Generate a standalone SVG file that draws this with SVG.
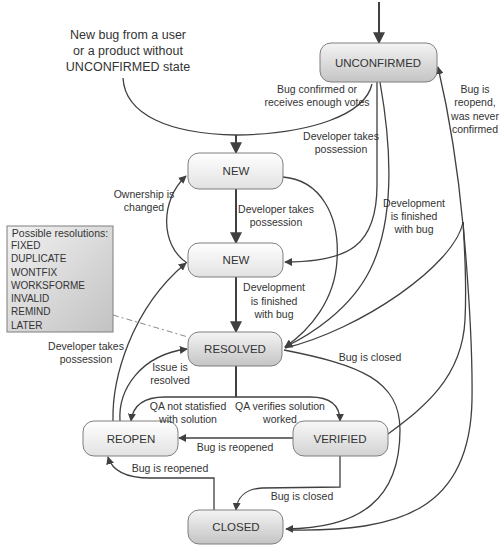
<svg xmlns="http://www.w3.org/2000/svg" width="504" height="550" viewBox="0 0 504 550">
<style>
text{font-family:"Liberation Sans",Arial,sans-serif;fill:#333;text-anchor:middle}
.n{font-size:11.5px}
.e{font-size:10.5px}
.t{font-size:12.5px}
.r{font-size:10px;text-anchor:start}
.node rect{stroke:#7f7f7f;stroke-width:1}
.c path{fill:none;stroke:#404040;stroke-width:1.3}
.c .th{stroke-width:2}
</style>
<defs>
<linearGradient id="gL" x1="0" y1="0" x2="0" y2="1"><stop offset="0" stop-color="#ffffff"/><stop offset="1" stop-color="#e2e2e2"/></linearGradient>
<linearGradient id="gD" x1="0" y1="0" x2="0" y2="1"><stop offset="0" stop-color="#f4f4f4"/><stop offset="1" stop-color="#c4c4c4"/></linearGradient>
<linearGradient id="gM" x1="0" y1="0" x2="0" y2="1"><stop offset="0" stop-color="#f8f8f8"/><stop offset="1" stop-color="#d2d2d2"/></linearGradient>
<linearGradient id="gB" x1="0" y1="0" x2="1" y2="1"><stop offset="0" stop-color="#f2f2f2"/><stop offset="1" stop-color="#c2c2c2"/></linearGradient>
<marker id="a" viewBox="0 0 10 10" refX="9" refY="5" markerWidth="8" markerHeight="8" markerUnits="userSpaceOnUse" orient="auto"><path d="M0,0 L10,5 L0,10 z" fill="#404040"/></marker>
<marker id="ab" viewBox="0 0 10 10" refX="9" refY="5" markerWidth="6" markerHeight="6" orient="auto"><path d="M0,0 L10,5 L0,10 z" fill="#404040"/></marker>
</defs>

<g id="connectors" class="c">
<path class="th" d="M379,2 L379,43" marker-end="url(#ab)"/>
<path d="M123,78 C125,115 170,134 236,135"/>
<path d="M372,84 C365,115 310,134 236,135"/>
<path class="th" d="M236,135 L236,153" marker-end="url(#ab)"/>
<path class="th" d="M236,189 L236,243" marker-end="url(#ab)"/>
<path class="th" d="M236,277 L236,332" marker-end="url(#ab)"/>
<path d="M377,82 L377,185 C377,245 350,262 285,262" marker-end="url(#a)"/>
<path d="M380,82 C392,150 395,220 370,270 C350,310 310,335 285,347" marker-end="url(#a)"/>
<path d="M283,177 C320,180 340,215 337,260 C335,300 310,330 285,347" marker-end="url(#a)"/>
<path d="M187,263 C160,245 160,200 186,176" marker-end="url(#a)"/>
<path d="M113,421 C112,380 130,310 186,263" marker-end="url(#a)"/>
<path d="M120,421 C118,390 140,355 187,349" marker-end="url(#a)"/>
<path d="M463,225 C458,170 448,110 438,67" marker-end="url(#a)"/>
<path d="M463,222 C455,265 360,330 285,348"/>
<path d="M388,434 C420,410 462,380 465,320 C467,280 464,240 463,222"/>
<path d="M290,530 C400,532 470,510 472,400 C473,330 466,260 463,222"/>
<path d="M284,350 C360,365 400,380 400,430 C400,500 360,528 286,529" marker-end="url(#a)"/>
<path class="th" d="M236,366 L236,397"/>
<path d="M236,397 L165,397 C145,397 133,405 131,421" marker-end="url(#a)"/>
<path d="M236,397 L310,397 C330,397 340,405 340,421" marker-end="url(#a)"/>
<path d="M293,438 L179,438" marker-end="url(#a)"/>
<path d="M214,510 L214,478 L150,478 C125,478 112,470 108,457" marker-end="url(#a)"/>
<path d="M340,456 L340,487 L262,488 C245,489 237,498 236,510" marker-end="url(#a)"/>
<path d="M113,315 L188,337" style="stroke:#8a8a8a;stroke-width:1;stroke-dasharray:6,3,2,3"/>
</g>

<g id="intro"><text class="t" x="128" y="38.5">New bug from a user</text><text class="t" x="128" y="54.5">or a product without</text><text class="t" x="128" y="70.5">UNCONFIRMED state</text></g>

<g id="unconfirmed" class="node"><rect x="320" y="43" width="117" height="39" rx="11" fill="url(#gD)"/><text class="n" x="378" y="66.5">UNCONFIRMED</text></g>
<g id="new1" class="node"><rect x="188" y="153" width="95" height="36" rx="11" fill="url(#gL)"/><text class="n" x="236" y="175">NEW</text></g>
<g id="new2" class="node"><rect x="188" y="243" width="95" height="34" rx="11" fill="url(#gL)"/><text class="n" x="236" y="264">NEW</text></g>
<g id="resolved" class="node"><rect x="188" y="332" width="94" height="34" rx="11" fill="url(#gD)"/><text class="n" x="235" y="353">RESOLVED</text></g>
<g id="reopen" class="node"><rect x="83" y="421" width="95" height="35" rx="11" fill="url(#gL)"/><text class="n" x="131" y="442.5">REOPEN</text></g>
<g id="verified" class="node"><rect x="293" y="421" width="95" height="35" rx="11" fill="url(#gM)"/><text class="n" x="340" y="442.5">VERIFIED</text></g>
<g id="closed" class="node"><rect x="188" y="510" width="95" height="34" rx="11" fill="url(#gD)"/><text class="n" x="236" y="531">CLOSED</text></g>

<g id="resolutions" class="node"><rect x="7" y="226" width="106" height="106" fill="url(#gB)"/>
<text class="e" x="60" y="237">Possible resolutions:</text>
<text class="r" x="11" y="249">FIXED</text><text class="r" x="11" y="262">DUPLICATE</text><text class="r" x="11" y="275.5">WONTFIX</text><text class="r" x="11" y="289">WORKSFORME</text><text class="r" x="11" y="302">INVALID</text><text class="r" x="11" y="315">REMIND</text><text class="r" x="11" y="328.5">LATER</text></g>

<g id="labels">
<text class="e" x="317" y="93">Bug confirmed or</text><text class="e" x="317" y="106">receives enough votes</text>
<text class="e" x="341" y="140">Developer takes</text><text class="e" x="341" y="153">possession</text>
<text class="e" x="475" y="93">Bug is</text><text class="e" x="475" y="106">reopend,</text><text class="e" x="475" y="120">was never</text><text class="e" x="475" y="133">confirmed</text>
<text class="e" x="144" y="198">Ownership is</text><text class="e" x="144" y="211">changed</text>
<text class="e" x="276" y="213">Developer takes</text><text class="e" x="276" y="226">possession</text>
<text class="e" x="414" y="207">Development</text><text class="e" x="414" y="220">is finished</text><text class="e" x="414" y="233">with bug</text>
<text class="e" x="274" y="291">Development</text><text class="e" x="274" y="305">is finished</text><text class="e" x="274" y="318">with bug</text>
<text class="e" x="86" y="350">Developer takes</text><text class="e" x="86" y="363">possession</text>
<text class="e" x="170" y="371">Issue is</text><text class="e" x="170" y="384">resolved</text>
<text class="e" x="188" y="410">QA not statisfied</text><text class="e" x="188" y="423">with solution</text>
<text class="e" x="280" y="410">QA verifies solution</text><text class="e" x="280" y="423">worked</text>
<text class="e" x="235" y="451">Bug is reopened</text>
<text class="e" x="170" y="472">Bug is reopened</text>
<text class="e" x="302" y="500">Bug is closed</text>
<text class="e" x="370" y="361">Bug is closed</text>
</g>
</svg>
